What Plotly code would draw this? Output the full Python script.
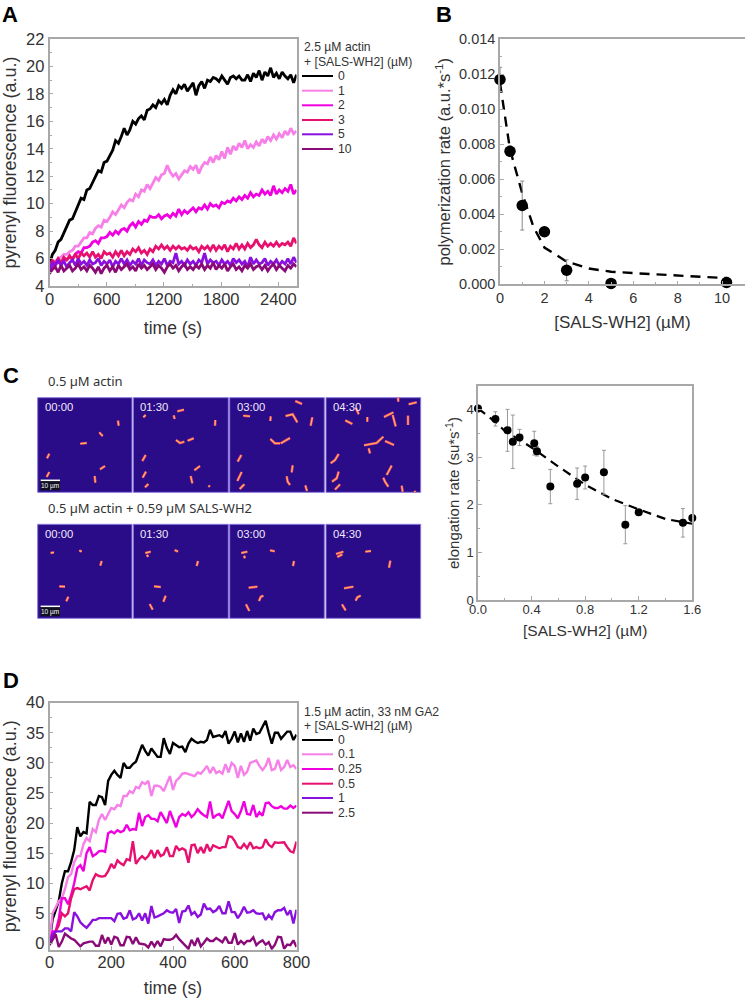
import numpy as np
import plotly.graph_objects as go

# ---------- Panel A ----------
a_names = ["0", "1", "2", "3", "5", "10"]
a_black = [5.5,6.3,6.6,7.2,7.4,7.9,8.3,8.8,8.9,9.4,10.0,10.4,10.3,11.0,11.1,11.5,11.9,12.4,12.3,13.0,13.1,13.5,13.9,14.6,14.4,14.9,15.5,15.0,15.4,16.0,15.8,16.2,16.4,16.1,16.8,16.9,17.2,17.0,17.5,17.3,17.6,17.2,17.9,18.3,18.0,18.6,18.4,18.7,18.2,18.5,18.8,17.9,18.6,18.9,18.4,19.0,18.9,19.2,19.1,18.9,19.3,19.0,18.7,19.2,19.3,19.1,19.3,19.0,19.0,19.4,18.9,19.5,19.2,19.7,19.0,19.6,19.3,19.9,19.2,19.5,19.1,19.6,19.3,19.1,19.4,18.8,19.4]
a_pink = [5.2,5.6,5.8,6.0,6.1,6.3,6.3,6.5,6.6,6.9,6.9,7.2,7.5,7.5,7.9,7.8,8.2,8.4,8.3,8.8,8.7,9.0,9.4,9.2,9.6,9.9,9.7,10.1,10.3,10.2,10.7,10.5,11.0,10.9,11.4,11.1,11.5,11.9,11.7,12.1,12.2,12.8,12.3,12.0,12.2,11.8,12.1,12.4,12.3,12.7,12.5,12.8,12.2,12.7,13.0,12.9,13.4,13.0,13.5,13.2,13.8,13.3,14.1,13.6,14.2,13.9,14.4,14.1,14.6,14.0,14.3,14.1,14.5,14.2,14.7,14.4,14.9,14.6,15.0,14.7,15.1,14.8,15.3,15.0,15.5,15.1,15.3]
a_magenta = [5.0,5.4,5.6,5.7,5.7,5.9,5.9,6.1,6.0,6.3,6.5,6.4,6.8,6.8,6.9,7.2,7.3,7.1,7.5,7.5,7.6,7.9,7.7,8.0,7.8,8.1,8.2,8.0,8.4,8.6,8.3,8.7,8.5,8.8,8.7,9.1,9.0,9.0,9.2,8.9,9.1,9.2,9.0,9.3,9.1,9.6,9.2,9.5,9.3,9.5,9.7,9.4,9.7,9.6,9.9,9.6,10.0,9.8,9.9,9.7,10.1,10.0,10.2,10.1,10.4,10.2,10.5,10.3,10.6,10.4,10.8,10.5,10.7,10.6,11.0,10.7,10.9,10.6,11.3,10.7,11.0,10.8,11.1,10.9,11.4,10.7,11.0]
a_crimson = [5.4,5.9,5.6,6.0,5.7,6.1,5.9,6.2,5.9,6.3,6.0,6.4,6.2,6.4,6.1,6.5,6.1,6.3,6.0,6.5,6.3,6.4,6.1,6.5,6.2,6.6,6.2,6.5,6.3,6.7,6.5,6.8,6.4,6.6,6.3,6.7,6.5,6.9,6.7,7.0,6.7,6.9,6.6,6.9,6.7,6.9,6.7,6.8,6.6,6.9,6.7,6.8,6.5,6.9,6.7,6.9,6.6,7.0,6.6,6.9,6.7,7.0,6.5,6.9,6.7,7.1,6.7,7.0,6.7,7.1,6.8,7.0,7.4,7.0,6.8,7.2,6.9,7.1,6.9,7.2,6.9,7.1,7.0,7.2,6.9,7.5,7.1]
a_purple = [5.1,5.7,5.5,5.9,5.5,5.8,5.4,5.7,5.9,5.5,6.0,5.6,5.8,5.5,5.9,5.6,5.7,6.0,5.5,5.8,5.6,5.9,5.4,5.8,5.6,6.0,5.6,5.9,5.5,5.8,5.6,6.0,5.5,5.9,5.7,5.6,5.9,5.5,5.8,5.6,6.0,5.5,5.8,5.7,6.4,5.6,5.8,5.5,5.9,5.6,5.8,5.5,5.9,5.7,6.4,5.6,5.9,5.7,5.8,5.5,5.9,5.6,5.8,5.5,6.0,5.7,5.9,5.6,5.8,5.4,6.1,5.6,5.9,5.6,5.7,6.0,5.5,5.8,5.6,5.9,5.5,5.8,5.6,6.0,5.6,6.1,5.7]
a_dark = [4.9,5.2,5.4,5.0,5.5,5.1,5.3,5.5,5.1,5.3,5.6,5.2,5.4,5.1,5.5,5.3,5.0,5.4,4.9,5.3,5.5,5.1,5.4,5.0,5.5,5.2,5.4,5.6,5.2,5.4,5.1,5.6,5.3,5.5,5.2,5.4,5.6,5.2,5.5,5.3,5.0,5.4,5.6,5.3,5.5,5.1,5.4,5.6,5.2,5.4,5.2,5.5,5.3,5.6,5.2,5.5,5.3,5.7,5.2,5.5,5.3,5.6,5.1,5.4,5.6,5.2,5.4,5.1,5.5,5.3,5.6,5.2,5.4,5.5,5.2,5.5,5.1,5.4,5.6,5.2,5.5,5.3,5.1,5.5,5.3,5.6,5.4]
a_series = [a_black, a_pink, a_magenta, a_crimson, a_purple, a_dark]
a_colors = ["#000000", "#f77fe8", "#f000e0", "#e8106e", "#8a10e0", "#8a0a78"]
a_legend_title = ["2.5 µM actin", "+ [SALS-WH2] (µM)"]

# ---------- Panel B ----------
b_x = [0, 0.45, 1, 2, 3, 5, 10.2]
b_y = [0.0117, 0.0076, 0.0045, 0.0030, 0.0008, 0.00005, 0.0001]
b_err = [0.0007, 0.0003, 0.0014, 0.0002, 0.0006, 0.0001, 0.0003]
b_fit_x = [0, 0.45, 1, 1.5, 2, 3, 4, 5, 6, 8, 10.2]
b_fit_y = [0.0115, 0.0077, 0.0052, 0.0033, 0.0021, 0.0013, 0.0009, 0.00072, 0.00064, 0.0005, 0.00035]

# ---------- Panel C (plot) ----------
c_x = [0, 0.13, 0.22, 0.26, 0.31, 0.42, 0.44, 0.54, 0.74, 0.8, 0.94, 1.1, 1.2, 1.53, 1.6]
c_y = [4.02, 3.8, 3.56, 3.32, 3.41, 3.29, 3.12, 2.38, 2.44, 2.57, 2.68, 1.58, 1.84, 1.62, 1.72]
c_err = [0, 0.15, 0.44, 0.56, 0.17, 0.25, 0.1, 0.36, 0.33, 0.24, 0.46, 0.4, 0.05, 0.3, 0.05]
c_fit_x = [0, 0.1, 0.2, 0.4, 0.6, 0.8, 1.0, 1.2, 1.4, 1.6]
c_fit_y = [4.02, 3.8, 3.55, 3.2, 2.8, 2.42, 2.12, 1.9, 1.7, 1.6]

# ---------- Panel C (micrographs): filaments traced in crop coordinates ----------
frame_columns = [(113, 396), (400, 685), (689, 973), (978, 1262)]
frame_rows = [(128, 412), (508, 790)]
frame_times = ["00:00", "01:30", "03:00", "04:30"]
filaments = [
 [(354,197),(356,212)],[(298,232),(308,243)],[(241,266),(260,264)],[(141,310),(148,296)],[(140,366),(148,351)],[(300,343),(315,333)],[(284,363),(286,383)],
 [(532,169),(552,164)],[(430,187),(437,180)],[(521,181),(524,192)],[(646,195),(645,212)],[(528,255),(540,264),(553,260)],[(563,257),(581,250)],[(427,318),(437,300)],[(428,368),(438,350)],[(583,346),(600,333)],[(572,363),(577,385)],[(435,397),(445,387)],[(626,391),(629,396)],
 [(886,138),(906,147)],[(730,182),(750,184)],[(812,184),(811,198)],[(857,183),(878,178),(892,202)],[(937,187),(932,212)],[(811,252),(825,265),(840,265)],[(842,265),(855,257),(870,249)],[(713,320),(724,300)],[(712,378),(725,351)],[(719,402),(733,388)],[(878,331),(875,352)],[(860,364),(863,380),(870,390)],[(916,391),(921,408)],
 [(1226,148),(1250,142)],[(1194,128),(1195,140)],[(1068,158),(1076,178)],[(1036,196),(1057,207)],[(1102,186),(1102,200)],[(1152,186),(1180,172)],[(1178,180),(1183,205),(1187,214)],[(1224,182),(1224,210)],[(1092,271),(1130,264),(1150,245)],[(1155,258),(1182,270)],[(1106,280),(1110,295)],[(992,325),(1005,315),(1016,297)],[(996,380),(1010,370),(1016,350)],[(1005,404),(1020,388)],[(1160,360),(1175,332)],[(1150,368),(1155,380),(1165,395)],[(1205,392),(1208,410)],[(1243,408),(1246,412)],
 [(152,594),(162,592)],[(238,586),(245,590)],[(301,632),(305,618)],[(178,694),(195,695)],[(199,739),(205,725)],
 [(436,594),(452,590)],[(440,600),(445,605)],[(524,585),(534,590)],[(590,633),(594,618)],[(462,694),(482,696)],[(490,740),(497,722)],[(449,747),(458,764)],
 [(724,594),(742,590)],[(732,602),(735,610)],[(810,586),(824,589)],[(879,633),(882,618)],[(746,698),(772,695)],[(777,738),(782,726),(790,722)],[(738,748),(748,768)],
 [(1008,597),(1030,590)],[(1012,606),(1027,598)],[(1096,590),(1113,588)],[(1167,638),(1171,617)],[(1032,700),(1060,695)],[(1067,737),(1072,727),(1082,722)],[(1026,748),(1037,766)],
]

# ---------- Panel D ----------
d_names = ["0", "0.1", "0.25", "0.5", "1", "2.5"]
d_black = [0,4,5.5,7,10,12,12,13.5,15.5,19.3,17.8,18.5,18.3,23.5,23,23,24.5,24.3,23,27,28,28.7,28,27.5,30,29.2,29.2,29.8,30.2,31.8,33,32,31.2,32.4,31.6,31,31,34.1,32.5,31.5,33.3,33,32.6,32.7,31.8,33.2,34,33.6,33.3,33.5,33.4,33.8,35.5,34.3,34.5,34.6,34.3,35.3,33.2,34,35.2,33.4,34.9,33.5,35.3,33.7,35.7,34.8,35,36,37,35,33.2,35,35,34,34.7,35.2,35.2,33.8,34.7]
d_pink = [0,5,6,7,7.5,9,11,11.5,13.5,14.5,14.5,16.5,17.5,17,19,18.5,20.5,21.5,20.5,21.5,22.5,22.3,23,22.8,24.5,24.5,25.3,25,26,25.8,26.8,26.5,27,24.5,26.2,26.2,26,25.3,26.5,27.8,25.5,27,27.5,28.2,28.3,28.1,28,27.8,28.4,28.2,28.8,29.5,28.3,29.3,28.3,28.6,28.2,29.8,28.4,30,29.5,27.5,29.5,28,28.5,30,30.2,30.4,29.5,28.8,29.5,30.8,28.8,29,30.5,28.8,29.3,30.5,29.3,29.6,29]
d_magenta = [0,2,2,4,7.5,7.5,6.5,8,10,12.5,13,12,15,16,14.5,14.8,15.3,15.4,15.2,18.3,18.6,18.3,18.8,18.5,18.7,19.7,18.8,19,18.9,21.7,19.5,21,21.3,20.7,20.7,20.3,21.8,21,20,22,20.5,19.3,21,21.5,21.2,21.8,21,21.5,22.3,21.7,21.3,21,23.6,20.8,21.3,21.5,20.8,22.3,23.7,22,21.5,20.8,22,23.6,21.5,21.4,23,21,21.8,21.2,23.3,23.4,22.8,22.5,22.5,22.8,22.4,22.4,22.9,22.5,22.9]
d_crimson = [0,1,2,3,5,4.5,5,7.5,9,9.2,9,9.2,9.5,8.8,10.5,11.5,11.2,11.1,11.2,12,13.2,12.5,13.8,13.3,13,14,13.8,17,13.2,14,14.5,14,14.5,15.5,14.2,15.5,14.5,14.8,16,14.5,14.5,16.2,15.5,15.8,15.5,13.4,16.3,16.4,15,16,15,16.5,15.3,16.3,16,15.8,16,16,17.8,17.7,17,16,15.8,16.5,15.8,16.8,15.8,16,15.8,16,17.3,16.4,16,16.8,16.7,16.8,16.8,16,15.3,15.1,16.9]
d_purple = [0,1.5,2,2,2,2.5,2.5,2,5.2,4.5,3.5,3,2.6,3.2,3.9,3.9,4.2,4.2,4.2,4.2,4.2,3.7,4.9,5,4.1,4.3,5.5,4,4.2,5,3.8,5,3.3,6.2,4.3,4.5,4.7,5,5.5,5.2,5.1,5.7,3.4,5.3,5.4,6.3,4.8,5.2,4.4,4.8,6.6,5.7,5.8,5.2,5.5,6.2,5,5,7,5.2,5.2,4.2,5,6.1,5.1,5.2,5.5,5,4.9,5,3.9,4.7,4.1,5.2,5.5,5.5,5.9,4.7,5.5,3.3,5.6]
d_dark = [-0.3,0.6,1.5,-0.6,0.3,1.6,1.2,0.8,0.6,0.1,-0.5,0,0.2,0.3,0.3,-0.4,-0.4,1.4,0,1.0,-0.2,1.1,0.9,-0.3,-0.3,1.1,1.0,-0.1,1.0,0,-0.1,-0.2,-0.7,0.3,-0.5,0.4,-0.5,0.7,0.6,0.6,0.8,1.4,0.7,0.2,-0.4,-0.9,0.6,-0.4,0.9,-0.5,0.1,0.8,0.4,0.4,0.9,0.6,0.2,1.1,0.1,0.1,1.7,-0.2,0.4,-0.1,0.4,0.4,1.0,-0.3,0.2,0.5,-0.2,0.2,-0.9,-0.2,1.1,1.0,-0.9,-0.2,-0.3,0.5,-0.6]
d_series = [d_black, d_pink, d_magenta, d_crimson, d_purple, d_dark]
d_colors = a_colors
d_legend_title = ["1.5 µM actin, 33 nM GA2", "+ [SALS-WH2] (µM)"]

W, H = 745, 998
SANS = "Liberation Sans"
INK = "#333333"
FRAME = "#a8a8a8"

def px(x0, x1):
    return [x0 / W, x1 / W]

def py(y0, y1):
    return [1 - y1 / H, 1 - y0 / H]

fig = go.Figure()

def axis(domain, rng, dtick, minor, size, title, tsize, standoff, fmt=None, label_shift=0):
    d = dict(domain=domain, range=rng, dtick=dtick, tick0=0, ticks="inside", ticklen=4, tickwidth=1,
             tickcolor=FRAME, linecolor=FRAME, linewidth=1.5, mirror=True, showline=True, showgrid=False,
             zeroline=False, tickfont=dict(family=SANS, size=size, color=INK), ticklabelstandoff=label_shift,
             minor=dict(dtick=minor, ticks="inside", ticklen=2.5, tickwidth=1, tickcolor=FRAME, showgrid=False),
             title=dict(text=title, font=dict(family=SANS, size=tsize, color=INK), standoff=standoff))
    if fmt:
        d["tickformat"] = fmt
    return d

layout = dict(
    xaxis=axis(px(49.5, 296.5), [0, 2590], 600, 300, 16.5, "time (s)", 17.5, 15, label_shift=-3),
    yaxis=axis(py(39, 286), [4, 22], 2, 1, 16.5, "pyrenyl fluorescence (a.u.)", 18, 11),
    xaxis2=axis(px(500, 745), [0, 11.03], 2, 1, 14.5, "[SALS-WH2] (µM)", 17, 11),
    yaxis2=axis(py(39.3, 284.3), [0, 0.014], 0.002, 0.001, 14.5, "polymerization rate (a.u.*s<sup>-1</sup>)", 16.5, 4, ".3f"),
    xaxis3=axis(px(478, 692.3), [0, 1.6], 0.4, 0.2, 13, "[SALS-WH2] (µM)", 15.5, 9, ".1f", label_shift=-3),
    yaxis3=axis(py(386, 600), [0, 4.49], 1, 0.5, 13, "elongation rate (su*s<sup>-1</sup>)", 15, 3),
    xaxis4=axis(px(49.5, 296.5), [0, 800], 200, 100, 16.5, "time (s)", 17.5, 15, label_shift=-3),
    yaxis4=axis(py(702.7, 949.7), [-1.05, 40], 5, 2.5, 16.5, "pyrenyl fluorescence (a.u.)", 18, 11),
    xaxis5=dict(domain=px(0, 430), range=[0, 1290], visible=False),
    yaxis5=dict(domain=py(355, 655), range=[900, 0], visible=False),
)
for i in ["", "2", "3", "4"]:
    layout[f"yaxis{i}"]["anchor"] = f"x{i}"
    layout[f"xaxis{i}"]["anchor"] = f"y{i}"
layout["xaxis5"]["anchor"] = "y5"
layout["yaxis5"]["anchor"] = "x5"

# Panel A traces
for name, ys, col in zip(a_names, a_series, a_colors):
    fig.add_trace(go.Scatter(x=np.linspace(0, 2590, len(ys)), y=ys, name=name, mode="lines", showlegend=False,
                             line=dict(color=col, width=2.8), xaxis="x", yaxis="y"))
# Panel D traces
for name, ys, col in zip(d_names, d_series, d_colors):
    fig.add_trace(go.Scatter(x=np.linspace(0, 800, len(ys)), y=ys, name=name, mode="lines", showlegend=False,
                             line=dict(color=col, width=2.4), xaxis="x4", yaxis="y4"))

# Panel B
fig.add_trace(go.Scatter(x=b_fit_x, y=b_fit_y, mode="lines", showlegend=False, xaxis="x2", yaxis="y2",
                         line=dict(color="black", width=2.4, dash="10px,7px")))
fig.add_trace(go.Scatter(x=b_x, y=b_y, mode="markers", showlegend=False, xaxis="x2", yaxis="y2", cliponaxis=False,
                         marker=dict(color="black", size=11.5),
                         error_y=dict(type="data", array=b_err, color="#8a8a8a", thickness=1, width=2)))
# Panel C plot
fig.add_trace(go.Scatter(x=c_fit_x, y=c_fit_y, mode="lines", showlegend=False, xaxis="x3", yaxis="y3",
                         line=dict(color="black", width=2.2, dash="9px,6px")))
fig.add_trace(go.Scatter(x=c_x, y=c_y, mode="markers", showlegend=False, xaxis="x3", yaxis="y3", cliponaxis=False,
                         marker=dict(color="black", size=8),
                         error_y=dict(type="data", array=c_err, color="#999999", thickness=1, width=2)))

# Micrographs
shapes = []
annotations = []
for r0, r1 in frame_rows:
    for (c0, c1), label in zip(frame_columns, frame_times):
        shapes.append(dict(type="rect", xref="x5", yref="y5", x0=c0, x1=c1, y0=r0, y1=r1, layer="below",
                           fillcolor="#2a0c88", line=dict(color="#8a78e0", width=1)))
        annotations.append(dict(xref="x5", yref="y5", x=c0 + 15, y=r0 + 28, text=label, showarrow=False,
                                xanchor="left", font=dict(family=SANS, size=11.3, color="#f0e8f8")))
    shapes.append(dict(type="rect", xref="x5", yref="y5", x0=122, x1=180, y0=r1 - 36, y1=r1 - 6, layer="below",
                       fillcolor="#101020", line=dict(width=0)))
    shapes.append(dict(type="line", xref="x5", yref="y5", x0=122, x1=180, y0=r1 - 36, y1=r1 - 36,
                       line=dict(color="white", width=1.5)))
    annotations.append(dict(xref="x5", yref="y5", x=151, y=r1 - 18, text="10 µm", showarrow=False,
                            font=dict(family=SANS, size=6.5, color="white")))

fx, fy = [], []
for seg in filaments:
    fx += [p[0] for p in seg] + [None]
    fy += [p[1] for p in seg] + [None]
fig.add_trace(go.Scatter(x=fx, y=fy, mode="lines", showlegend=False, xaxis="x5", yaxis="y5",
                         line=dict(color="#e83a80", width=2.6)))
fig.add_trace(go.Scatter(x=fx, y=fy, mode="lines", showlegend=False, xaxis="x5", yaxis="y5",
                         line=dict(color="#ffb050", width=1.3)))

def text(x, y, s, family, size, color=INK, bold=False):
    annotations.append(dict(xref="paper", yref="paper", x=x / W, y=1 - y / H, text=f"<b>{s}</b>" if bold else s,
                            showarrow=False, xanchor="left", yanchor="middle", xshift=-1,
                            font=dict(family=family, size=size, color=color)))

text(1, 14, "A", SANS, 22, "black", True)
text(435, 14, "B", SANS, 22, "black", True)
text(2, 375, "C", SANS, 22, "black", True)
text(2, 680, "D", SANS, 22, "black", True)
text(47, 381, "0.5 µM actin", "Noto Sans", 13)
text(47, 508, "0.5 µM actin + 0.59 µM SALS-WH2", "Noto Sans", 13)

def legend(title_lines, title_ys, names, colors, ys):
    for t, y in zip(title_lines, title_ys):
        text(303, y, t, SANS, 12.2)
    for n, col, y in zip(names, colors, ys):
        shapes.append(dict(type="line", xref="paper", yref="paper", x0=302 / W, x1=333 / W,
                           y0=1 - y / H, y1=1 - y / H, line=dict(color=col, width=2)))
        text(337, y, n, SANS, 12.2)

legend(a_legend_title, [47, 62], a_names, a_colors, [76, 90.7, 105.3, 120, 134.3, 149])
legend(d_legend_title, [711.7, 725.7], d_names, d_colors, [740, 754.3, 769, 783.7, 798, 812.7])

fig.update_layout(
    **layout,
    width=W, height=H, margin=dict(l=0, r=0, t=0, b=0, autoexpand=False), autosize=False,
    paper_bgcolor="white", plot_bgcolor="rgba(0,0,0,0)", showlegend=False,
    shapes=shapes, annotations=annotations,
)
fig.write_html("out.html", config={"displayModeBar": False},
               post_script="document.body.style.margin='0';document.body.style.overflow='hidden';")
